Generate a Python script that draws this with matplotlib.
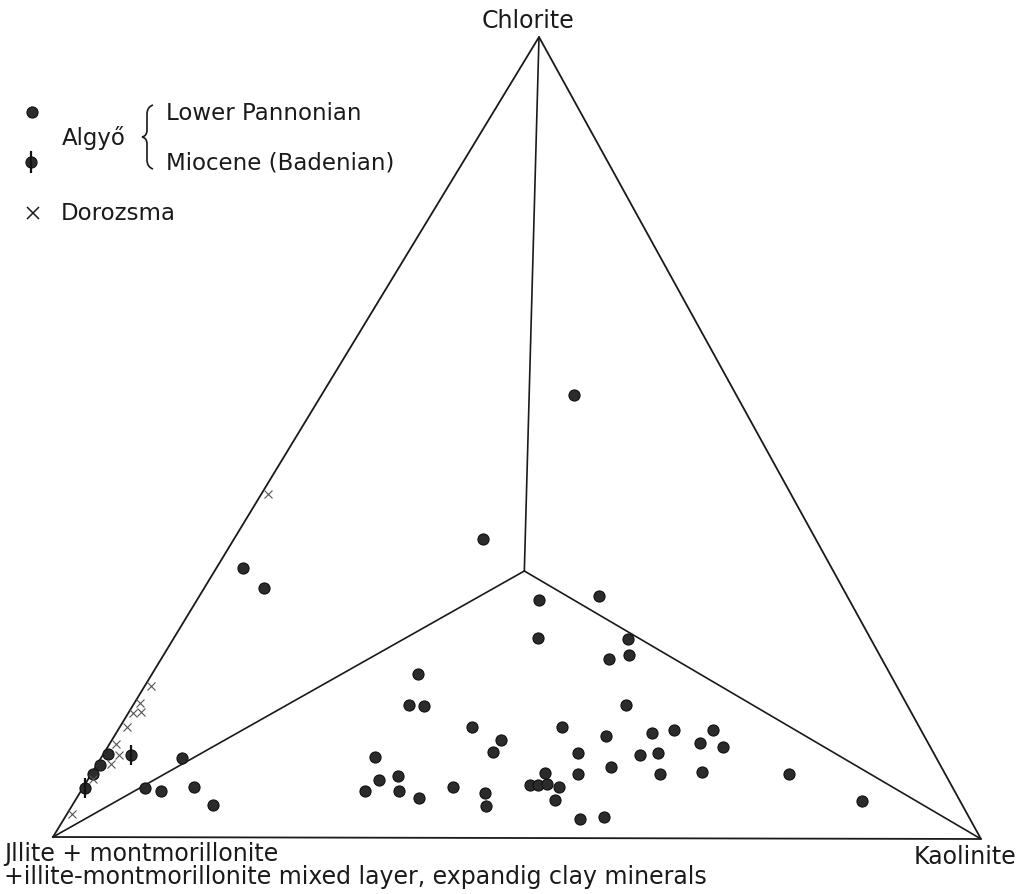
import matplotlib
matplotlib.use("Agg")
import matplotlib.pyplot as plt
import numpy as np
from matplotlib.path import Path
from matplotlib.patches import PathPatch

# clay mineral composition in %, illite group = 100 - kaolinite - chlorite
pann_kaolinite = [27.2, 26.8, 2.9, 6.4, 36.8, 43.0, 39.2, 48.9, 50.1, 48.2,
                  28.7, 53.0, 29.7, 31.3, 37.9, 47.6, 41.9, 41.8, 51.0, 29.4,
                  31.4, 33.1, 30.6, 34.2, 36.8, 39.7, 43.6, 44.6, 48.8, 47.9,
                  48.8, 49.7, 51.2, 51.6, 52.4, 55.5, 58.0, 52.9, 57.7, 59.8,
                  64.1, 57.8, 59.6, 63.5, 66.2, 55.5, 61.2, 65.6, 75.1, 84.7,
                  0.5, 0.4, 0.2, 8.7, 6.7, 8.6, 11.9, 15.1]
pann_chlorite = [55.3, 37.3, 33.6, 31.1, 29.7, 30.2, 25.0, 24.9, 22.9, 22.4,
                 20.4, 16.6, 16.6, 16.5, 13.8, 13.9, 12.2, 10.7, 10.6, 10.1,
                 7.2, 7.7, 5.8, 5.8, 5.0, 6.4, 5.6, 4.0, 8.1, 6.6,
                 6.6, 6.8, 6.4, 4.8, 8.0, 2.4, 2.6, 12.8, 13.1, 13.5,
                 13.5, 10.4, 10.7, 11.9, 11.4, 8.9, 8.0, 8.3, 8.1, 4.7,
                 10.4, 9.0, 7.9, 9.9, 6.1, 5.8, 6.3, 4.0]

mio_kaolinite = [3.0, 0.3]
mio_chlorite = [10.3, 6.1]

dor_kaolinite = [0.7, 0.7, 0.6, 0.5, 1.3, 0.7, 0.7, 1.7, 1.5, 0.5, 0.5]
dor_chlorite = [42.9, 18.9, 16.8, 15.5, 15.6, 13.8, 11.6, 10.3, 9.1, 7.3, 2.9]

# corners of the (skewed) triangle in figure pixel frame
ILL = np.array([53.0, 837.0])
KAO = np.array([981.0, 839.0])
CHL = np.array([539.0, 37.0])


def to_xy(kao, chl):
    k = np.asarray(kao) / 100.0
    c = np.asarray(chl) / 100.0
    x = ILL[0] + k * (KAO[0] - ILL[0]) + c * (CHL[0] - ILL[0])
    y = ILL[1] + k * (KAO[1] - ILL[1]) + c * (CHL[1] - ILL[1])
    return x, y


plt.rcParams['font.family'] = ['DejaVu Sans']
fig = plt.figure(figsize=(10.22, 8.94), dpi=100)
ax = fig.add_axes([0, 0, 1, 1])
ax.set_xlim(0, 1022)
ax.set_ylim(894, 0)
ax.axis('off')

ink = '#1a1a1a'

# triangle and the lines from the centre to the corners
tri = np.array([ILL, KAO, CHL, ILL])
ax.plot(tri[:, 0], tri[:, 1], color=ink, lw=1.3, solid_joinstyle='miter')
cx, cy = to_xy([100 / 3], [100 / 3])
for v in (ILL, KAO, CHL):
    ax.plot([cx[0], v[0]], [cy[0], v[1]], color=ink, lw=1.2)

dot = dict(ls='none', marker='o', ms=8, mfc='#2b2b2b', mec='#111111', mew=0.8)

x, y = to_xy(pann_kaolinite, pann_chlorite)
ax.plot(x, y, **dot)

x, y = to_xy(mio_kaolinite, mio_chlorite)
ax.plot(x, y, **dot)
ax.plot(x, y, ls='none', marker='|', ms=14, mew=1.6, color='#111111')

x, y = to_xy(dor_kaolinite, dor_chlorite)
ax.plot(x, y, ls='none', marker='x', ms=5.5, mew=0.8, color='#555555')

# corner labels
fs = 17
ax.text(528, 28, 'Chlorite', ha='center', va='baseline', fontsize=fs, color=ink)
ax.text(965, 864, 'Kaolinite', ha='center', va='baseline', fontsize=fs, color=ink)
ax.text(4, 861, 'Jllite + montmorillonite', ha='left', va='baseline',
        fontsize=fs, color=ink)
ax.text(4, 884, '+illite-montmorillonite mixed layer, expandig clay minerals',
        ha='left', va='baseline', fontsize=fs, color=ink)

# legend
lfs = 16.5
ax.plot([32], [112], **dot)
ax.plot([31], [162], **dot)
ax.plot([31], [162], ls='none', marker='|', ms=16, mew=1.6, color='#111111')
ax.text(62, 145, 'Algyő', ha='left', va='baseline', fontsize=lfs, color=ink)
ax.text(166, 120, 'Lower Pannonian', ha='left', va='baseline', fontsize=lfs, color=ink)
ax.text(166, 170, 'Miocene (Badenian)', ha='left', va='baseline', fontsize=lfs, color=ink)
ax.plot([33], [213], ls='none', marker='x', ms=8, mew=1.1, color=ink)
ax.text(61, 220, 'Dorozsma', ha='left', va='baseline', fontsize=lfs, color=ink)

brace = Path([(153, 105), (147, 107), (147, 114),
              (147, 130), (147, 136), (142, 137),
              (147, 138), (147, 144),
              (147, 160), (147, 167), (153, 169)],
             [Path.MOVETO, Path.CURVE3, Path.CURVE3,
              Path.LINETO, Path.CURVE3, Path.CURVE3,
              Path.CURVE3, Path.CURVE3,
              Path.LINETO, Path.CURVE3, Path.CURVE3])
ax.add_patch(PathPatch(brace, fill=False, color=ink, lw=1.2))

fig.savefig('out.png', dpi=100)
